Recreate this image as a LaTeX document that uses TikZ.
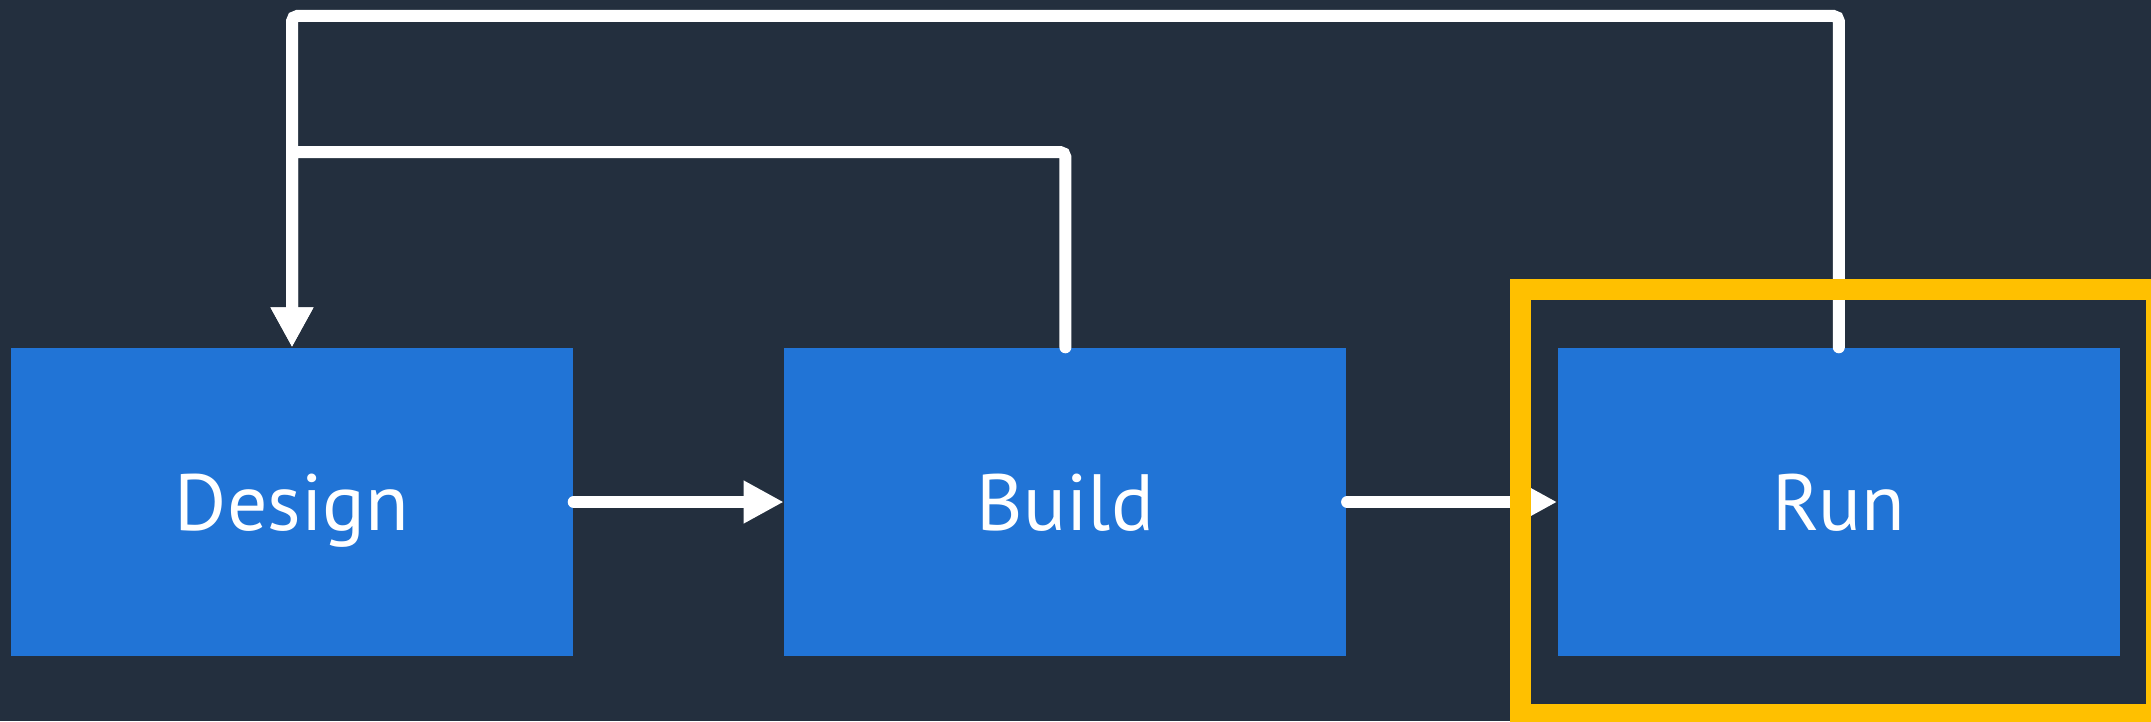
\documentclass[tikz,border=0pt]{standalone}
\usepackage{fontspec}
\setmainfont{PT Sans}
\usepackage{tikz}
\usetikzlibrary{arrows.meta, calc, positioning}
\definecolor{cbg}{HTML}{232F3E}
\definecolor{cblue}{HTML}{2174D6}
\definecolor{cgold}{HTML}{FFC000}

\begin{document}
\begin{tikzpicture}[
  stagebox/.style={
    rectangle, fill=cblue, draw=none, text=white,
    minimum width=5.62cm, minimum height=3.08cm,
    text height=0.56cm, text depth=0pt, inner sep=0pt,
    font=\fontsize{22.7}{27}\selectfont
  },
  flowarrow/.style={
    -{Triangle[length=4mm, width=4mm]}, draw=white, line width=0.12cm,
    line cap=round, rounded corners=1.5pt
  },
  focusframe/.style={
    draw=cgold, line width=0.21cm
  }
]

% ============================================================
% Canvas
% ============================================================
\useasboundingbox (0,0) rectangle (21.51,7.21);
\clip (0,0) rectangle (21.51,7.21);
\fill[cbg] (0,0) rectangle (21.51,7.21);

% ============================================================
% Three stages in a row
% ============================================================
\node[stagebox] (design) at (2.92, 2.19) {Design};
\node[stagebox, right=2.1cm of design] (build) {Build};
\node[stagebox, right=2.1cm of build] (run) {Run};

% Feedback lanes above the row
\coordinate (toplane) at (0, 7.05);
\coordinate (midlane) at (0, 5.69);

% ============================================================
% Forward arrows
% ============================================================
\draw[flowarrow] (design.east) -- (build.west);
\draw[flowarrow] (build.east) -- (run.west);

% ============================================================
% Feedback loops back to Design
% ============================================================
\draw[flowarrow] (build.north) -- (build.north |- midlane)
  -- (design.north |- midlane) -- (design.north);
\draw[flowarrow] (run.north) -- (run.north |- toplane)
  -- (design.north |- toplane) -- (design.north);

% Highlight frame round the Run stage
\draw[focusframe]
  ($(run.south west)+(-0.37,-0.58)$) rectangle ($(run.north east)+(0.36,0.58)$);

\end{tikzpicture}
\end{document}
